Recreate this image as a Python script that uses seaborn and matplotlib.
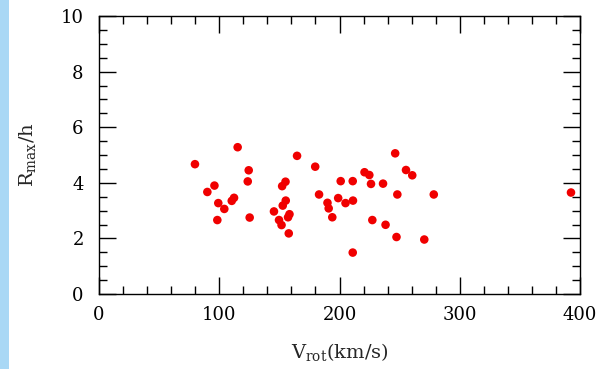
import numpy as np
import pandas as pd
import matplotlib
matplotlib.use("Agg")
import matplotlib.pyplot as plt
from matplotlib.patches import Rectangle
from matplotlib.ticker import MultipleLocator
import seaborn as sns

# Data
V_ROT = [79.8, 115.3, 124.5, 123.7, 96.0, 90.1, 99.2, 104.2, 110.4, 112.3,
         98.4, 125.3, 145.5, 149.7, 164.7, 179.8, 155.1, 152.3, 155.3, 152.8,
         158.4, 157.2, 151.8, 157.8, 183.0, 190.0, 191.0, 194.0, 201.0, 211.0,
         198.9, 205.0, 211.2, 211.0, 220.8, 224.8, 226.2, 236.2, 227.3, 238.3,
         247.4, 246.3, 248.1, 255.3, 260.5, 278.4, 270.5, 392.5]
R_MAX_H = [4.67, 5.28, 4.45, 4.05, 3.90, 3.67, 3.27, 3.06, 3.35, 3.46,
           2.66, 2.75, 2.97, 2.66, 4.97, 4.58, 4.04, 3.88, 3.36, 3.18,
           2.87, 2.76, 2.48, 2.18, 3.58, 3.28, 3.08, 2.76, 4.06, 4.06,
           3.45, 3.27, 3.36, 1.49, 4.38, 4.28, 3.96, 3.97, 2.66, 2.49,
           2.05, 5.06, 3.58, 4.46, 4.27, 3.58, 1.96, 3.65]

X_TICKS = [0, 100, 200, 300, 400]
Y_TICKS = [0, 2, 4, 6, 8, 10]

sns.set_style("ticks")
plt.rcParams["font.family"] = ["DejaVu Serif"]
plt.rcParams["mathtext.fontset"] = "dejavuserif"

df = pd.DataFrame({"v": V_ROT, "r": R_MAX_H})

fig = plt.figure(figsize=(6.1, 3.69), dpi=100)
ax = fig.add_axes([99 / 610, 1 - 294 / 369, 481 / 610, 278 / 369])

# light blue strip at the left edge
fig.patches.append(Rectangle((0, 0), 9 / 610, 1, transform=fig.transFigure,
                             facecolor="#a9d8f5", edgecolor="none", zorder=0))

sns.scatterplot(data=df, x="v", y="r", ax=ax, color="#f00000", s=38,
                edgecolor="none", legend=False, zorder=3)

ax.set_xlim(0, 400)
ax.set_ylim(0, 10)
ax.set_xticks(X_TICKS)
ax.set_yticks(Y_TICKS)
ax.xaxis.set_minor_locator(MultipleLocator(20))
ax.yaxis.set_minor_locator(MultipleLocator(0.5))
ax.tick_params(which="both", direction="in", top=True, right=True,
               width=1.0, color="black", labelsize=13, labelcolor="black")
ax.tick_params(which="major", length=12)
ax.tick_params(which="minor", length=5.5)
ax.tick_params(axis="x", which="major", pad=9)
ax.tick_params(axis="y", which="major", pad=11)
for sp in ax.spines.values():
    sp.set_visible(True)
    sp.set_linewidth(1.0)
    sp.set_color("black")

ax.set_xlabel(r"$\mathrm{V_{rot}(km/s)}$", fontsize=14, labelpad=12)
ax.set_ylabel(r"$\mathrm{R_{max}/h}$", fontsize=14, labelpad=16)

fig.savefig("out.png", dpi=100)
